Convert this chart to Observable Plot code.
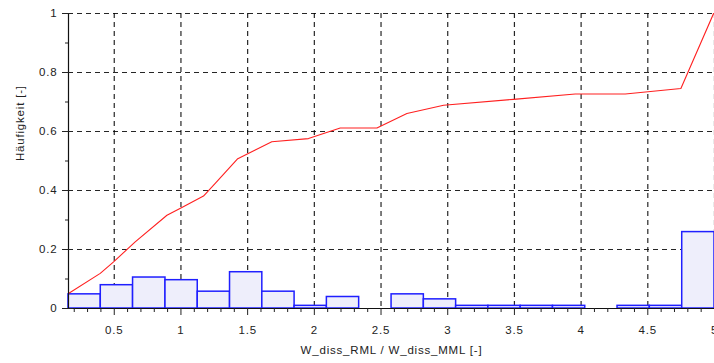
<!DOCTYPE html>
<html>
<head>
<meta charset="utf-8">
<script src="https://cdn.jsdelivr.net/npm/d3@7"></script>
<script src="https://cdn.jsdelivr.net/npm/@observablehq/plot@0.6"></script>
<style>
  html, body { margin: 0; padding: 0; background: #fff; }
  #chart svg { display: block; }
</style>
</head>
<body>
<div id="chart"></div>
<script>
// Histogram bin edges of the work ratio W_diss_RML / W_diss_MML
const binEdges = [0.157, 0.399, 0.641, 0.884, 1.126, 1.368, 1.610, 1.852, 2.094, 2.336,
                  2.579, 2.821, 3.063, 3.305, 3.547, 3.789, 4.031, 4.273, 4.515, 4.758, 5.000];
// Relative frequency per bin
const binFreq = [0.048, 0.079, 0.105, 0.096, 0.057, 0.123, 0.057, 0.009, 0.039, 0,
                 0.048, 0.031, 0.009, 0.009, 0.009, 0.009, 0, 0.009, 0.009, 0.259];

// Cumulative frequency curve
const cdfX = [0.157, 0.395, 0.495, 0.657, 0.895, 1.007, 1.169, 1.257, 1.426, 1.681,
              1.956, 2.194, 2.469, 2.694, 2.969, 3.493, 3.956, 4.331, 4.748, 4.993];
const cdfY = [0.051, 0.119, 0.158, 0.226, 0.316, 0.342, 0.381, 0.424, 0.508, 0.565,
              0.576, 0.612, 0.612, 0.661, 0.689, 0.709, 0.727, 0.727, 0.746, 1.0];

// Axis ticks
const xMajor = [0.5, 1, 1.5, 2, 2.5, 3, 3.5, 4, 4.5, 5];
const xMinor = [0.2, 0.3, 0.4, 0.6, 0.7, 0.8, 0.9, 1.1, 1.2, 1.3, 1.4, 1.6, 1.7, 1.8, 1.9,
                2.1, 2.2, 2.3, 2.4, 2.6, 2.7, 2.8, 2.9, 3.1, 3.2, 3.3, 3.4, 3.6, 3.7, 3.8, 3.9,
                4.1, 4.2, 4.3, 4.4, 4.6, 4.7, 4.8, 4.9];
const yMajor = [0, 0.2, 0.4, 0.6, 0.8, 1];
const yMinor = [0.1, 0.3, 0.5, 0.7, 0.9];

const xTitle = "W_diss_RML / W_diss_MML [-]";
const yTitle = "Häufigkeit [-]";

const bins = binFreq
  .map((f, i) => ({x1: binEdges[i], x2: binEdges[i + 1], freq: f}))
  .filter(d => d.freq > 0);
const cdf = cdfX.map((x, i) => ({x, y: cdfY[i]}));

const gridStyle = {stroke: "#000", strokeOpacity: 0.85, strokeWidth: 1.2, strokeDasharray: "5,4"};

const chart = Plot.plot({
  width: 714,
  height: 363,
  marginLeft: 68,
  marginRight: 0,
  marginTop: 13,
  marginBottom: 55,
  style: {
    fontFamily: "'Liberation Sans', Arial, sans-serif",
    fontSize: "11.5px",
    letterSpacing: "0.8px",
    color: "#222",
    background: "#fff",
    overflow: "visible"
  },
  x: {domain: [binEdges[0], binEdges[binEdges.length - 1]]},
  y: {domain: [0, 1]},
  marks: [
    Plot.gridX(xMajor, gridStyle),
    Plot.gridY(yMajor.filter(v => v > 0), gridStyle),
    Plot.rectY(bins, {x1: "x1", x2: "x2", y: "freq", fill: "#eeeefb", stroke: "#1f1fff", strokeWidth: 1.5}),
    Plot.line(cdf, {x: "x", y: "y", stroke: "#ff2020", strokeWidth: 1.1}),
    Plot.ruleY([0], {stroke: "#111", strokeWidth: 1.2}),
    Plot.ruleX([binEdges[0]], {stroke: "#111", strokeWidth: 1.2}),
    // x axis: major + minor ticks, then labels
    Plot.axisX(xMajor, {tickSize: 7, tickFormat: () => "", label: null}),
    Plot.axisX(xMinor, {tickSize: 4, tickFormat: () => "", label: null}),
    Plot.axisX(xMajor, {tickSize: 0, tickPadding: 17, tickFormat: d => String(d), label: null}),
    // y axis: major ticks cross the axis line, minor ticks outside
    Plot.axisY(yMajor, {tickSize: 11, dx: 5, tickFormat: () => "", label: null}),
    Plot.axisY(yMinor, {tickSize: 3, tickFormat: () => "", label: null}),
    Plot.axisY(yMajor, {tickSize: 0, tickPadding: 11, tickFormat: d => String(d), label: null}),
    // axis titles
    Plot.text([xTitle], {frameAnchor: "bottom", dy: 45, text: d => d, fill: "#222"}),
    Plot.text([yTitle], {frameAnchor: "left", dx: -48, rotate: -90, text: d => d, fill: "#222"})
  ]
});

document.getElementById("chart").appendChild(chart);
</script>
</body>
</html>
